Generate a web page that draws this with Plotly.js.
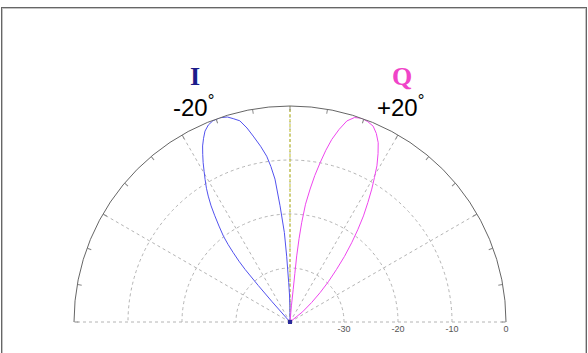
<!DOCTYPE html>
<html>
<head>
<meta charset="utf-8">
<script src="https://cdn.plot.ly/plotly-3.0.1.min.js"></script>
<style>
html,body{margin:0;padding:0;background:#fff;}
#wrap{position:relative;width:588px;height:353px;overflow:hidden;}
#chart{width:588px;height:353px;}
#frame{position:absolute;left:1px;top:7px;width:584px;height:400px;border:1px solid #666;box-shadow:inset 0 0 0 1px #c4c4c4;pointer-events:none;}
</style>
</head>
<body>
<div id="wrap"><div id="chart"></div><div id="frame"></div></div>
<script>
// Beam pattern of the I channel (degrees from boresight, negative = left) and gain in dB
const I_theta = [0, -0.3, -1, -1.9, -2.9, -3.6, -4.9, -6, -7, -8, -9.5, -11.2, -12.5, -14, -15.6, -17, -19, -21, -22.5, -24, -25.2, -26.4, -27.5, -28.6, -29.7, -30.8, -32, -33, -34.2, -35.3, -36.5, -37.8, -38.6, -39.3, -40, -40.5, -41, -41.5, -42];
const I_db    = [-40, -37, -35, -32.7, -27.8, -23.4, -18.4, -13.4, -11, -9, -7, -4.9, -3.2, -1.6, -0.9, -0.3, 0, -0.1, -0.5, -1.3, -2.4, -3.6, -5, -6.4, -7.9, -9.3, -10.8, -12.2, -14, -15.9, -17.9, -19.9, -21.6, -23.4, -25.3, -27.2, -31, -35, -40];
// Beam pattern of the Q channel (positive = right)
const Q_theta = [4, 5, 5.6, 5.7, 5.8, 6.2, 6.7, 7.5, 8.6, 9.6, 10.7, 11.8, 12.9, 14.3, 15.8, 17.5, 19.4, 21.2, 23, 24.6, 26.2, 27.6, 29.1, 30.3, 31.6, 33.1, 34.7, 36.3, 37.9, 39.7, 41.5, 43.6, 45.7, 48, 51, 55];
const Q_db    = [-40, -37, -34, -31, -27.7, -24.5, -21.5, -18, -15.1, -12.5, -10, -7.5, -5.3, -3.2, -1.3, -0.3, 0, -0.2, -0.6, -1.6, -3.0, -4.8, -6.9, -9.0, -11.1, -13.6, -16.1, -18.8, -21.4, -24.2, -27, -29.7, -32.2, -34.6, -37, -40];
// Boresight reference line
const bore_theta = [0, 0];
const bore_db = [-40, 0];
// Radial axis ticks
const r_tickvals = [-30, -20, -10, 0];
const r_ticktext = ['-30', '-20', '-10', '0'];
const r_range = [-40, 0];
const r_range_frame = [-40, 2];
const r_outer = [0];
// Labels
const labels = [
  {text: '<b>I</b>', color: '#1c1c8a'},
  {text: '<b>Q</b>', color: '#f044c8'},
  {text: '-20<sup>°</sup>'},
  {text: '+20<sup>°</sup>'}
];

// plot geometry (pixels): centre and outer radius
const W = 588, H = 353, CX = 290, CY = 322, R = 216;
const dom = {x: [(CX - R) / W, (CX + R) / W], y: [(H - CY) / H, (H - CY + R) / H]};
const Rf = R * (r_range_frame[1] - r_range_frame[0]) / (r_range[1] - r_range[0]);
const domF = {x: [(CX - Rf) / W, (CX + Rf) / W], y: [(H - CY) / H, (H - CY + Rf) / H]};

const traces = [
  {type: 'scatterpolar', mode: 'lines', r: bore_db, theta: bore_theta, subplot: 'polar',
   line: {color: '#c0c020', width: 1, dash: '3px,2px'}, hoverinfo: 'skip'},
  {type: 'scatterpolar', mode: 'lines', r: I_db, theta: I_theta, subplot: 'polar',
   line: {color: '#5252ee', width: 1}},
  {type: 'scatterpolar', mode: 'lines', r: Q_db, theta: Q_theta, subplot: 'polar',
   line: {color: '#ee46ee', width: 1}},
  {type: 'scatterpolar', mode: 'markers', r: [bore_db[0]], theta: [bore_theta[0]], subplot: 'polar2',
   marker: {color: '#2a2a9a', size: 4, symbol: 'square'}},
  {type: 'scatterpolar', mode: 'lines', r: [], theta: [], subplot: 'polar3'}
];

const angCommon = {rotation: 90, direction: 'clockwise', showticklabels: false};

const layout = {
  width: W, height: H,
  margin: {l: 0, r: 0, t: 0, b: 0},
  paper_bgcolor: '#fff',
  showlegend: false,
  font: {family: 'Liberation Sans, Arial, sans-serif'},
  polar: {
    domain: dom, sector: [0, 180], bgcolor: 'rgba(0,0,0,0)', hole: 0,
    radialaxis: {range: r_range, tickvals: r_tickvals, ticktext: r_ticktext, showline: false,
      ticks: '', side: 'clockwise', angle: 0, gridcolor: '#b4b4b4', griddash: 'dot', gridwidth: 1,
      tickfont: {size: 9, color: '#555', family: 'Liberation Sans, Arial, sans-serif'}},
    angularaxis: Object.assign({}, angCommon, {dtick: 30, tick0: 0, ticks: '', showline: false,
      gridcolor: '#b4b4b4', griddash: 'dot', gridwidth: 1})
  },
  polar2: {
    domain: dom, sector: [0, 180], bgcolor: 'rgba(0,0,0,0)',
    radialaxis: {range: r_range, visible: false},
    angularaxis: Object.assign({}, angCommon, {dtick: 10, tick0: 0, ticks: 'inside', ticklen: 4,
      tickcolor: '#888', tickwidth: 1, showline: false, showgrid: false})
  },
  polar3: {
    domain: domF, sector: [0, 180], bgcolor: 'rgba(0,0,0,0)',
    radialaxis: {range: r_range_frame, tickvals: r_outer, showticklabels: false, ticks: '', showline: false,
      showgrid: true, gridcolor: '#666', gridwidth: 1, griddash: 'solid'},
    angularaxis: Object.assign({}, angCommon, {ticks: '', showline: false, showgrid: false})
  },
  annotations: [
    {xref: 'paper', yref: 'paper', x: 195/W, y: 1 - 77/H, text: labels[0].text, showarrow: false,
     xanchor: 'center', yanchor: 'middle', font: {family: 'Liberation Serif, Times New Roman, serif', size: 26, color: labels[0].color}},
    {xref: 'paper', yref: 'paper', x: 402/W, y: 1 - 77/H, text: labels[1].text, showarrow: false,
     xanchor: 'center', yanchor: 'middle', font: {family: 'Liberation Serif, Times New Roman, serif', size: 26, color: labels[1].color}},
    {xref: 'paper', yref: 'paper', x: 193/W, y: 1 - 106/H, text: labels[2].text, showarrow: false,
     xanchor: 'center', yanchor: 'middle', font: {size: 24, color: '#000'}},
    {xref: 'paper', yref: 'paper', x: 400/W, y: 1 - 106/H, text: labels[3].text, showarrow: false,
     xanchor: 'center', yanchor: 'middle', font: {size: 24, color: '#000'}}
  ]
};

Plotly.newPlot('chart', traces, layout, {displayModeBar: false, staticPlot: true});
</script>
</body>
</html>
